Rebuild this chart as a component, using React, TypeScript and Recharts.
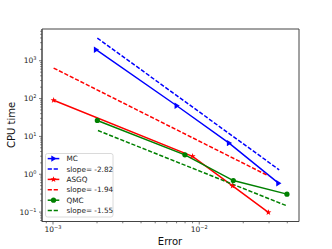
import { ComposedChart, Label, Legend, Line, ReferenceArea, XAxis, YAxis } from 'recharts'

// values (log-log)
const mcData = [
  { err: 1.97e-3, t: 1955 },
  { err: 7.02e-3, t: 64.6 },
  { err: 0.016, t: 6.65 },
  { err: 0.0348, t: 0.58 },
]
const mcFit = [
  { err: 2.01e-3, t: 3980 },
  { err: 0.0352, t: 1.31 },
]
const asgqData = [
  { err: 1.01e-3, t: 90 },
  { err: 9.0e-3, t: 2.98 },
  { err: 0.0169, t: 0.49 },
  { err: 0.0297, t: 0.098 },
]
const asgqFit = [
  { err: 1.01e-3, t: 641 },
  { err: 0.0297, t: 0.908 },
]
const qmcData = [
  { err: 2.01e-3, t: 26.4 },
  { err: 7.98e-3, t: 3.26 },
  { err: 0.0171, t: 0.68 },
  { err: 0.0398, t: 0.298 },
]
const qmcFit = [
  { err: 2.03e-3, t: 14.3 },
  { err: 0.0398, t: 0.146 },
]

const legendLabels = ['MC', 'slope= -2.82', 'ASGQ', 'slope= -1.94', 'QMC', 'slope= -1.55']

const xMajor = [1e-3, 1e-2]
const xMinor = [9e-4, 2e-3, 3e-3, 4e-3, 5e-3, 6e-3, 7e-3, 8e-3, 9e-3, 2e-2, 3e-2, 4e-2]
const yMajor = [0.1, 1, 10, 100, 1000]
const yMinor = [
  0.06, 0.07, 0.08, 0.09,
  0.2, 0.3, 0.4, 0.5, 0.6, 0.7, 0.8, 0.9,
  2, 3, 4, 5, 6, 7, 8, 9,
  20, 30, 40, 50, 60, 70, 80, 90,
  200, 300, 400, 500, 600, 700, 800, 900,
  2000, 3000, 4000, 5000, 6000,
]

const X_DOMAIN = [8.41e-4, 0.0481]
const Y_DOMAIN = [0.0564, 6900]

const FONT = 'DejaVu Sans, sans-serif'
const BLUE = '#0000ff'
const RED = '#ff0000'
const GREEN = '#008000'
const AXIS = '#444'

function expLabel(v: number) {
  const e = Math.round(Math.log10(v))
  return e < 0 ? `\u2212${-e}` : `${e}`
}

function starPoints(cx: number, cy: number, R: number, r: number) {
  const pts: string[] = []
  for (let i = 0; i < 10; i++) {
    const a = -Math.PI / 2 + (i * Math.PI) / 5
    const rad = i % 2 === 0 ? R : r
    pts.push(`${cx + rad * Math.cos(a)},${cy + rad * Math.sin(a)}`)
  }
  return pts.join(' ')
}

function Marker({ kind, cx, cy, color }: { kind: string; cx: number; cy: number; color: string }) {
  if (cx == null || cy == null) return null
  if (kind === 'tri') {
    return (
      <polygon
        points={`${cx + 3},${cy} ${cx - 2.2},${cy - 3.2} ${cx - 2.2},${cy + 3.2}`}
        fill={color}
      />
    )
  }
  if (kind === 'star') {
    return <polygon points={starPoints(cx, cy, 3.2, 1.3)} fill={color} />
  }
  return <circle cx={cx} cy={cy} r={2.6} fill={color} />
}

function XTick({ x, y, payload }: any) {
  const major = xMajor.includes(payload.value)
  return (
    <g>
      <line x1={x} x2={x} y1={y} y2={y + (major ? 3 : 1.8)} stroke={AXIS} strokeWidth={0.7} />
      {major && (
        <text x={x} y={y + 10.5} textAnchor="middle" fontSize={7.5} fontFamily={FONT} fill="#222">
          10
          <tspan dy={-3.2} fontSize={5}>
            {expLabel(payload.value)}
          </tspan>
        </text>
      )}
    </g>
  )
}

function YTick({ x, y, payload }: any) {
  const major = yMajor.includes(payload.value)
  return (
    <g>
      <line x1={x} x2={x - (major ? 3 : 1.8)} y1={y} y2={y} stroke={AXIS} strokeWidth={0.7} />
      {major && (
        <text x={x - 5.5} y={y + 2.7} textAnchor="end" fontSize={7.5} fontFamily={FONT} fill="#222">
          10
          <tspan dy={-3.2} fontSize={5}>
            {expLabel(payload.value)}
          </tspan>
        </text>
      )}
    </g>
  )
}

const legendRows = [
  { color: BLUE, marker: 'tri', dashed: false },
  { color: BLUE, marker: '', dashed: true },
  { color: RED, marker: 'star', dashed: false },
  { color: RED, marker: '', dashed: true },
  { color: GREEN, marker: 'dot', dashed: false },
  { color: GREEN, marker: '', dashed: true },
]

function LegendBox() {
  return (
    <svg width={69} height={65} style={{ display: 'block' }}>
      <rect x={0.5} y={0.5} width={67.5} height={63.5} rx={2} fill="rgba(255,255,255,0.85)" stroke="#d0d0d0" strokeWidth={0.8} />
      {legendRows.map((row, i) => {
        const cy = 5.6 + i * 10.4
        return (
          <g key={legendLabels[i]}>
            <line
              x1={2.7}
              x2={14.3}
              y1={cy}
              y2={cy}
              stroke={row.color}
              strokeWidth={1.5}
              strokeDasharray={row.dashed ? '4.2 1.8' : undefined}
            />
            {row.marker && <Marker kind={row.marker} cx={8.5} cy={cy} color={row.color} />}
            <text x={21.5} y={cy + 2.6} fontSize={7.3} fontFamily={FONT} fill="#222">
              {legendLabels[i]}
            </text>
          </g>
        )
      })}
    </svg>
  )
}

export default function App() {
  return (
    <div style={{ position: 'absolute', left: 0, top: 0, width: 332, height: 249, background: '#fff' }}>
      <ComposedChart width={332} height={249} margin={{ top: 29, right: 33, bottom: 0, left: 0 }}>
        <XAxis
          xAxisId="b"
          dataKey="err"
          type="number"
          scale="log"
          domain={X_DOMAIN}
          allowDataOverflow
          ticks={[...xMajor, ...xMinor]}
          interval={0}
          tick={<XTick />}
          tickLine={false}
          tickSize={0}
          tickMargin={0}
          height={27.5}
          axisLine={{ stroke: AXIS, strokeWidth: 1 }}
        >
          <Label
            content={() => (
              <text x={170} y={245} textAnchor="middle" fontSize={10} fontFamily={FONT} fill="#111">
                Error
              </text>
            )}
          />
        </XAxis>
        <YAxis
          yAxisId="l"
          dataKey="t"
          type="number"
          scale="log"
          domain={Y_DOMAIN}
          allowDataOverflow
          ticks={[...yMajor, ...yMinor]}
          interval={0}
          tick={<YTick />}
          tickLine={false}
          tickSize={0}
          tickMargin={0}
          width={42}
          axisLine={{ stroke: AXIS, strokeWidth: 1 }}
        >
          <Label
            content={() => (
              <text
                x={15}
                y={125}
                textAnchor="middle"
                fontSize={10}
                fontFamily={FONT}
                fill="#111"
                transform="rotate(-90 15 125)"
              >
                CPU time
              </text>
            )}
          />
        </YAxis>

        {/* axes frame */}
        <ReferenceArea
          xAxisId="b"
          yAxisId="l"
          x1={X_DOMAIN[0]}
          x2={X_DOMAIN[1]}
          y1={Y_DOMAIN[0]}
          y2={Y_DOMAIN[1]}
          fill="none"
          fillOpacity={0}
          stroke={AXIS}
          strokeWidth={1}
          ifOverflow="visible"
        />

        <Line
          xAxisId="b"
          yAxisId="l"
          data={mcData}
          dataKey="t"
          name="MC"
          stroke={BLUE}
          strokeWidth={1.5}
          isAnimationActive={false}
          dot={(p: any) => <Marker key={`mc${p.index}`} kind="tri" cx={p.cx} cy={p.cy} color={BLUE} />}
          activeDot={false}
        />
        <Line
          xAxisId="b"
          yAxisId="l"
          data={mcFit}
          dataKey="t"
          name="slope= -2.82"
          stroke={BLUE}
          strokeWidth={1.5}
          strokeDasharray="4.2 1.8"
          isAnimationActive={false}
          dot={false}
          activeDot={false}
        />
        <Line
          xAxisId="b"
          yAxisId="l"
          data={asgqData}
          dataKey="t"
          name="ASGQ"
          stroke={RED}
          strokeWidth={1.5}
          isAnimationActive={false}
          dot={(p: any) => <Marker key={`as${p.index}`} kind="star" cx={p.cx} cy={p.cy} color={RED} />}
          activeDot={false}
        />
        <Line
          xAxisId="b"
          yAxisId="l"
          data={asgqFit}
          dataKey="t"
          name="slope= -1.94"
          stroke={RED}
          strokeWidth={1.5}
          strokeDasharray="4.2 1.8"
          isAnimationActive={false}
          dot={false}
          activeDot={false}
        />
        <Line
          xAxisId="b"
          yAxisId="l"
          data={qmcData}
          dataKey="t"
          name="QMC"
          stroke={GREEN}
          strokeWidth={1.5}
          isAnimationActive={false}
          dot={(p: any) => <Marker key={`qm${p.index}`} kind="dot" cx={p.cx} cy={p.cy} color={GREEN} />}
          activeDot={false}
        />
        <Line
          xAxisId="b"
          yAxisId="l"
          data={qmcFit}
          dataKey="t"
          name="slope= -1.55"
          stroke={GREEN}
          strokeWidth={1.5}
          strokeDasharray="4.2 1.8"
          isAnimationActive={false}
          dot={false}
          activeDot={false}
        />

        <Legend
          layout="vertical"
          align="center"
          verticalAlign="middle"
          content={() => <LegendBox />}
          wrapperStyle={{ position: 'absolute', left: 45, top: 153, width: 69, height: 65 }}
        />
      </ComposedChart>
    </div>
  )
}
